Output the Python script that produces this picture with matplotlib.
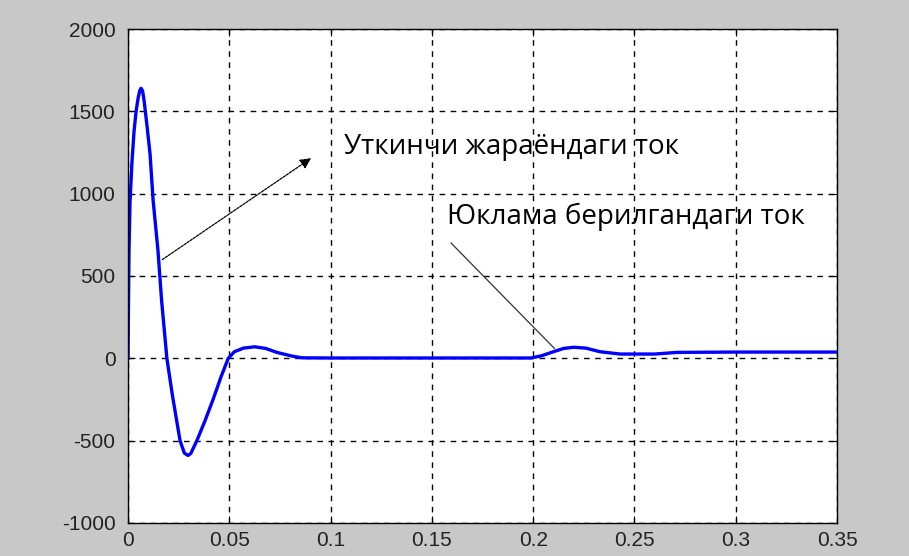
import matplotlib.pyplot as plt

plt.rcParams['axes.unicode_minus'] = False

# current trace (time, s / current, A)
t = [0.0, 0.0005, 0.001, 0.002, 0.003, 0.004, 0.005, 0.0058, 0.0064, 0.0072, 0.008,
     0.0095, 0.0109, 0.0124, 0.0148, 0.0166, 0.0192, 0.022, 0.0257, 0.0278,
     0.0296, 0.031, 0.034, 0.038, 0.042, 0.046, 0.0495, 0.0525, 0.0570,
     0.0625, 0.068, 0.0735, 0.0815, 0.086, 0.10, 0.15, 0.199, 0.204, 0.210,
     0.215, 0.220, 0.226, 0.233, 0.243, 0.260, 0.271, 0.30, 0.35]
i_load = [0, 650, 950, 1200, 1380, 1500, 1580, 1625, 1640, 1625, 1560,
          1400, 1240, 960, 655, 350, 0, -230, -500, -575,
          -590, -578, -500, -380, -250, -110, 0, 40, 62,
          70, 60, 36, 12, 3, 2, 2, 2, 15, 40,
          60, 67, 62, 40, 26, 26, 36, 38, 38]

x_ticks = [0, 0.05, 0.1, 0.15, 0.2, 0.25, 0.3, 0.35]
x_labels = ['0', '0.05', '0.1', '0.15', '0.2', '0.25', '0.3', '0.35']
y_ticks = [-1000, -500, 0, 500, 1000, 1500, 2000]

label_transient = 'Уткинчи жараёндаги ток'
label_load = 'Юклама берилгандаги ток'

fig = plt.figure(figsize=(9.09, 5.56), dpi=100, facecolor='#c8c8c8')
ax = fig.add_axes([0.1408, 0.0594, 0.7800, 0.8884])
ax.set_facecolor('white')

ax.plot(t, i_load, color='#0000ff', lw=2.4)

ax.set_xlim(0, 0.35)
ax.set_ylim(-1000, 2000)
ax.set_xticks(x_ticks)
ax.set_xticklabels(x_labels)
ax.set_yticks(y_ticks)
ax.grid(True, color='black', linestyle=(0, (4, 4)), linewidth=1.0)
ax.tick_params(direction='in', top=True, right=True, length=5, width=0.8,
               labelsize=15, labelcolor='#222222')
ax.tick_params(axis='x', pad=6)
ax.tick_params(axis='y', pad=9)
for lab in ax.get_xticklabels() + ax.get_yticklabels():
    lab.set_family('Liberation Sans')
for s in ax.spines.values():
    s.set_linewidth(1.0)

# annotations
ax.annotate('', xy=(0.0915, 1225), xytext=(0.0158, 590),
            arrowprops=dict(arrowstyle='-|>', color='black', lw=0.9,
                            linestyle=(0, (2, 1)), mutation_scale=16))
ax.text(0.1065, 1285, label_transient, fontsize=20, family='Open Sans',
        va='center', ha='left')

ax.plot([0.1595, 0.2105], [700, 60], color='#333333', lw=0.9)
ax.text(0.1575, 860, label_load, fontsize=20, family='Open Sans',
        va='center', ha='left')

fig.savefig('out.png', dpi=100, facecolor=fig.get_facecolor())
